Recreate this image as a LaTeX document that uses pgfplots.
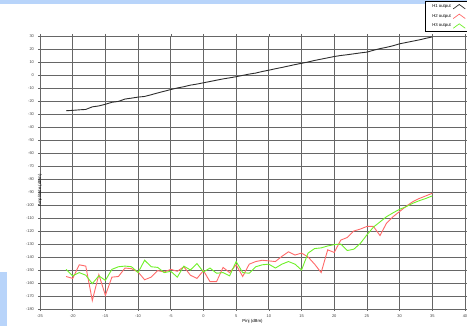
\documentclass[border=0pt]{standalone}
\usepackage{fontspec}
\setmainfont{Liberation Sans}
\usepackage{pgfplots}
\pgfplotsset{compat=1.18}
\definecolor{hone}{RGB}{45,45,45}
\definecolor{htwo}{RGB}{255,105,105}
\definecolor{hthree}{RGB}{110,240,40}
\definecolor{bluebar}{RGB}{184,212,250}
\begin{document}
\begin{tikzpicture}[x=1pt,y=1pt]
\useasboundingbox (0,0) rectangle (467,326);
\fill[bluebar] (0,322) rectangle (467,326);
\fill[bluebar] (0,0) rectangle (7,54);
\begin{axis}[
  at={(40pt,17pt)}, anchor=south west,
  scale only axis, width=425pt, height=273pt,
  xmin=-25, xmax=40, ymin=-180, ymax=30,
  xtick={-25,-20,...,40}, ytick={-180,-170,...,30},
  grid=major, major grid style={black!60, line width=0.8pt},
  axis line style={black!60, line width=0.8pt},
  tick align=outside, major tick length=2pt,
  tick style={black!60, line width=0.5pt},
  ticklabel style={font=\fontsize{4}{4.5}\selectfont, text=black!75},
  yticklabel style={xshift=-0.5pt},
  /pgf/number format/assume math mode=true,
  xlabel={Pinj (dBm)}, ylabel={Amplitude (dBm)},
  every axis x label/.style={at={(rel axis cs:0.5,0)}, anchor=center, yshift=-12.7pt, font=\fontsize{4.3}{5}\selectfont},
  every axis y label/.style={at={(rel axis cs:0,0.5)}, rotate=90, anchor=center, xshift=-18pt, font=\fontsize{4.3}{5}\selectfont},
  legend style={at={(rel axis cs:1,1)}, anchor=south east, xshift=6pt, yshift=4pt,
     font=\fontsize{4.3}{5}\selectfont, draw=black, line width=0.8pt,
     inner xsep=5pt, inner ysep=1.3pt, row sep=1.2pt, legend cell align=right},
  legend plot pos=right,
  legend image code/.code={\draw[#1,line width=0.7pt] (0pt,-2.2pt) -- (6pt,2.2pt) -- (12pt,-2.2pt);},
  clip=true,
]
\addplot[hone, line width=0.9pt] coordinates {
(-21,-27.5) (-20,-27.2) (-19,-26.8) (-18,-26.5) (-17,-24.5) (-16,-23.8) (-15,-22.5)
(-14,-21) (-13,-20.3) (-12,-18.5) (-11,-17.8) (-10,-17) (-9,-16.5) (-8,-15.2)
(-7,-13.8) (-6,-12.5) (-5,-11.2) (-4,-10) (-3,-9) (-2,-7.8) (-1,-7) (0,-6)
(1,-5) (2,-4) (3,-3) (4,-2.2) (5,-1.3) (6,-0.3) (7,0.7) (8,1.5) (9,2.7) (10,3.7)
(11,4.8) (12,5.8) (13,6.9) (14,8) (15,9) (16,10) (17,11.2) (18,12.2) (19,13.2)
(20,14.2) (21,15) (22,15.6) (23,16.3) (24,17) (25,17.6) (26,19) (27,20.3)
(28,21.3) (29,22.5) (30,24) (31,25) (32,26) (33,27) (34,28.2) (35,29.3)
};
\addlegendentry{H1 output}
\addplot[htwo, line width=0.9pt] coordinates {
(-21,-155) (-20,-156.5) (-19,-146) (-18,-147) (-17,-173.5) (-16,-153.5) (-15,-169.5)
(-14,-155.5) (-13,-155) (-12,-148.5) (-11,-149) (-10,-151.5) (-9,-157.5) (-8,-155.5)
(-7,-150.5) (-6,-151.5) (-5,-149.5) (-4,-151) (-3,-147.5) (-2,-154) (-1,-156.5)
(0,-150.5) (1,-159) (2,-159) (3,-148) (4,-152) (5,-146) (6,-155) (7,-145.5)
(8,-143.5) (9,-142.5) (10,-143) (11,-143.5) (12,-139.5) (13,-136) (14,-138.5)
(15,-137) (16,-140) (17,-145.5) (18,-152) (19,-134.5) (20,-136.5) (21,-127)
(22,-125) (23,-120) (24,-118.5) (25,-116.5) (26,-116.5) (27,-123.5) (28,-114)
(29,-109) (30,-105) (31,-101) (32,-97.5) (33,-95) (34,-93) (35,-91)
};
\addlegendentry{H2 output}
\addplot[hthree, line width=0.9pt] coordinates {
(-21,-149.5) (-20,-154.5) (-19,-152) (-18,-154) (-17,-160.5) (-16,-154.5) (-15,-158)
(-14,-149.5) (-13,-147.5) (-12,-147) (-11,-147.5) (-10,-152) (-9,-142.5) (-8,-147.5)
(-7,-148) (-6,-152) (-5,-151) (-4,-155.5) (-3,-147) (-2,-150) (-1,-145)
(0,-151.5) (1,-148.5) (2,-152.5) (3,-152) (4,-154.5) (5,-143.5) (6,-152) (7,-152.5)
(8,-147.5) (9,-146) (10,-145.5) (11,-148.5) (12,-145.5) (13,-143.5) (14,-145.5)
(15,-150) (16,-137) (17,-133.5) (18,-133) (19,-131.5) (20,-130.5) (21,-130)
(22,-135) (23,-134) (24,-129.5) (25,-123) (26,-117) (27,-113) (28,-109)
(29,-106) (30,-103.3) (31,-101.3) (32,-98.7) (33,-96.7) (34,-95) (35,-93)
};
\addlegendentry{H3 output}
\end{axis}
\end{tikzpicture}
\end{document}
